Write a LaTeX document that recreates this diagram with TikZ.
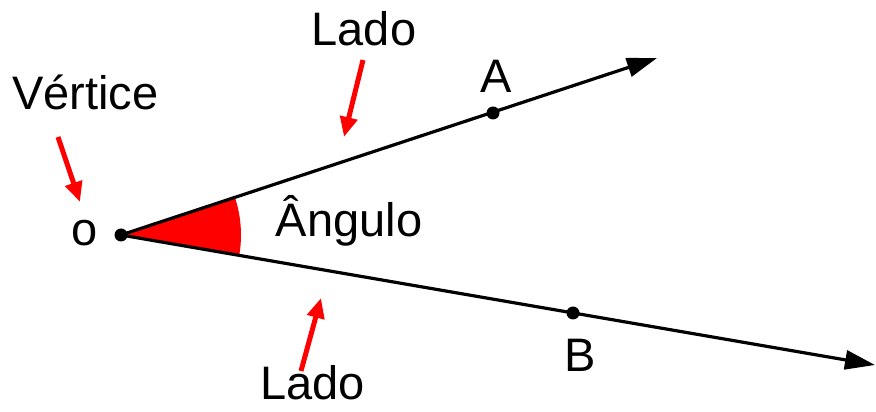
\documentclass[tikz,border=0pt]{standalone}
\usepackage{fontspec}
\setmainfont{Liberation Sans}
\usetikzlibrary{arrows.meta}
\begin{document}
\begin{tikzpicture}[x=1pt,y=1pt,
  ray/.style={line width=3.2pt,-{Triangle[length=30pt,width=19pt]}},
  redarrow/.style={red,line width=5pt,-{Triangle[length=20pt,width=17pt]}},
  lbl/.style={inner sep=0pt,anchor=base,font=\fontsize{47}{50}\selectfont},
  dotpt/.style={circle,fill=black,inner sep=0pt,minimum size=13pt}]
\useasboundingbox (0,0) rectangle (876,412);
% vertices and points
\coordinate (O) at (121,177);
\coordinate (tipA) at (657,354);
\coordinate (tipB) at (875,47);
% angle sector
\fill[red] (O) -- ++(-9.78:120) arc[start angle=-9.78,end angle=18.27,radius=120] -- cycle;
% rays
\draw[ray] (O) -- (tipA);
\draw[ray] (O) -- (tipB);
\node[dotpt] (dO) at (O) {};
\node[dotpt] (dA) at (493,299) {};
\node[dotpt] (dB) at (573,99) {};
% labels
\node[lbl] (vertice) at (85.5,302) {Vértice};
\node[lbl] (ladoTop) at (364,366) {Lado};
\node[lbl] (ladoBot) at (312.5,12) {Lado};
\node[lbl] (labA) at (496,319) {A};
\node[lbl] (labB) at (580,40) {B};
\node[lbl] (labO) at (84.5,166) {o};
\node[lbl] (angulo) at (349,175) {Ângulo};
% red arrows
\coordinate (v1) at (58,275);
\coordinate (v2) at (80,210);
\coordinate (t1) at (363,352);
\coordinate (t2) at (344,275);
\coordinate (b1) at (301,41);
\coordinate (b2) at (321,114);
\draw[redarrow] (v1) -- (v2);
\draw[redarrow] (t1) -- (t2);
\draw[redarrow] (b1) -- (b2);
\end{tikzpicture}
\end{document}
